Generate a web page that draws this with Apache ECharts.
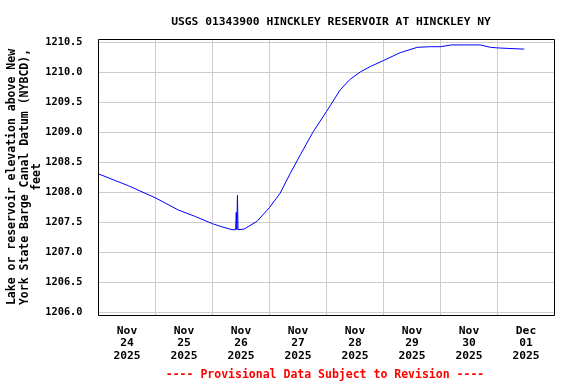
<!DOCTYPE html>
<html>
<head>
<meta charset="utf-8">
<script src="https://cdn.jsdelivr.net/npm/echarts@6/dist/echarts.min.js"></script>
<style>html,body{margin:0;padding:0;background:#fff}#c{width:576px;height:384px}</style>
</head>
<body>
<div id="c"></div>
<script>
var titleText = 'USGS 01343900 HINCKLEY RESERVOIR AT HINCKLEY NY';
var yAxisTitle = 'Lake or reservoir elevation above New\nYork State Barge Canal Datum (NYBCD),\nfeet';
var footnote = '---- Provisional Data Subject to Revision ----';
var startTime = '2025-11-24T00:00:00Z';
var endTime = '2025-12-02T00:00:00Z';
var xTickLabels = ['Nov\n24\n2025','Nov\n25\n2025','Nov\n26\n2025','Nov\n27\n2025','Nov\n28\n2025','Nov\n29\n2025','Nov\n30\n2025','Dec\n01\n2025'];
var yMin = 1206.0, yMax = 1210.5, yStep = 0.5;

var times = [
 '2025-11-24T00:00','2025-11-24T12:45','2025-11-25T00:00','2025-11-25T09:30','2025-11-25T16:45',
 '2025-11-26T00:00','2025-11-26T03:45','2025-11-26T08:15','2025-11-26T09:45','2025-11-26T10:00',
 '2025-11-26T10:15','2025-11-26T10:30','2025-11-26T10:45','2025-11-26T13:15','2025-11-26T18:45',
 '2025-11-27T00:00','2025-11-27T04:30','2025-11-27T08:45','2025-11-27T13:00','2025-11-27T18:30',
 '2025-11-28T00:00','2025-11-28T05:45','2025-11-28T09:45','2025-11-28T14:15','2025-11-28T18:30',
 '2025-11-29T00:00','2025-11-29T07:00','2025-11-29T14:15','2025-11-29T19:45','2025-11-30T00:00',
 '2025-11-30T04:45','2025-11-30T16:45','2025-11-30T21:00','2025-12-01T00:00','2025-12-01T05:15',
 '2025-12-01T11:15'
];
var elevation = [
 1208.31,1208.11,1207.91,1207.71,1207.60,
 1207.48,1207.43,1207.38,1207.38,1207.67,
 1207.38,1207.95,1207.38,1207.39,1207.52,
 1207.75,1207.99,1208.32,1208.63,1209.02,
 1209.35,1209.71,1209.88,1210.01,1210.10,
 1210.20,1210.33,1210.42,1210.43,1210.43,
 1210.46,1210.46,1210.42,1210.41,1210.40,
 1210.39
];

var t0 = Date.parse(startTime), DAY = 86400000;
var nDays = (Date.parse(endTime) - t0) / DAY;
var seriesData = times.map(function (t, i) {
  return [(Date.parse(t + ':00Z') - t0) / DAY, elevation[i]];
});

var FONT = 'DejaVu Sans Mono';
var chart = echarts.init(document.getElementById('c'), null, {renderer: 'canvas'});
chart.setOption({
  animation: false,
  backgroundColor: '#ffffff',
  title: {
    text: titleText, left: 326, top: 12, textAlign: 'center',
    textStyle: {fontFamily: FONT, fontWeight: 'bold', fontSize: 11.3, color: '#000'}
  },
  grid: [
    {left: 98.5, right: 21.5, top: 42.5, bottom: 71.5, containLabel: false},
    {left: 98.5, right: 21.5, top: 39.5, bottom: 68.5, containLabel: false}
  ],
  xAxis: [
    {type: 'value', gridIndex: 0, min: 0, max: nDays, interval: 1, show: false},
    {type: 'value', gridIndex: 1, min: 0, max: nDays, interval: 1,
     axisLine: {show: false}, axisTick: {show: false}, axisLabel: {show: false},
     splitLine: {show: true, lineStyle: {color: '#cccccc', width: 1}}},
    {type: 'category', gridIndex: 1, data: xTickLabels, boundaryGap: true, position: 'bottom',
     axisLine: {show: false}, axisTick: {show: false}, splitLine: {show: false},
     axisLabel: {margin: 9, fontFamily: FONT, fontWeight: 'bold', fontSize: 11.3, lineHeight: 12.7, color: '#000', interval: 0}}
  ],
  yAxis: [
    {type: 'value', gridIndex: 0, min: yMin, max: yMax, interval: yStep,
     axisLine: {show: false}, axisTick: {show: false},
     axisLabel: {margin: 16, fontFamily: FONT, fontWeight: 'bold', fontSize: 10.3, color: '#000',
                 formatter: function (v) { return v.toFixed(1); }},
     splitLine: {show: true, lineStyle: {color: '#cccccc', width: 1}}},
    {type: 'value', gridIndex: 1, min: 0, max: 1, show: false, splitLine: {show: false}}
  ],
  series: [{
    type: 'line', xAxisIndex: 0, yAxisIndex: 0, data: seriesData,
    showSymbol: false, symbol: 'none',
    lineStyle: {color: '#0000ff', width: 1}, z: 3
  }],
  graphic: [
    {type: 'rect', shape: {x: 98.5, y: 39.5, width: 456, height: 276}, z: 100,
     style: {fill: null, stroke: '#000', lineWidth: 1}},
    {type: 'text', x: 25, y: 177, rotation: Math.PI / 2, z: 100,
     style: {text: yAxisTitle, textAlign: 'center', textVerticalAlign: 'middle', align: 'center', verticalAlign: 'middle',
             font: 'bold 11.5px "DejaVu Sans Mono"', fill: '#000', lineHeight: 12.5}},
    {type: 'text', x: 325, y: 375, z: 100,
     style: {text: footnote, textAlign: 'center', textVerticalAlign: 'middle', align: 'center', verticalAlign: 'middle',
             font: 'bold 11.5px "DejaVu Sans Mono"', fill: '#ff0000'}}
  ]
});
</script>
</body>
</html>
